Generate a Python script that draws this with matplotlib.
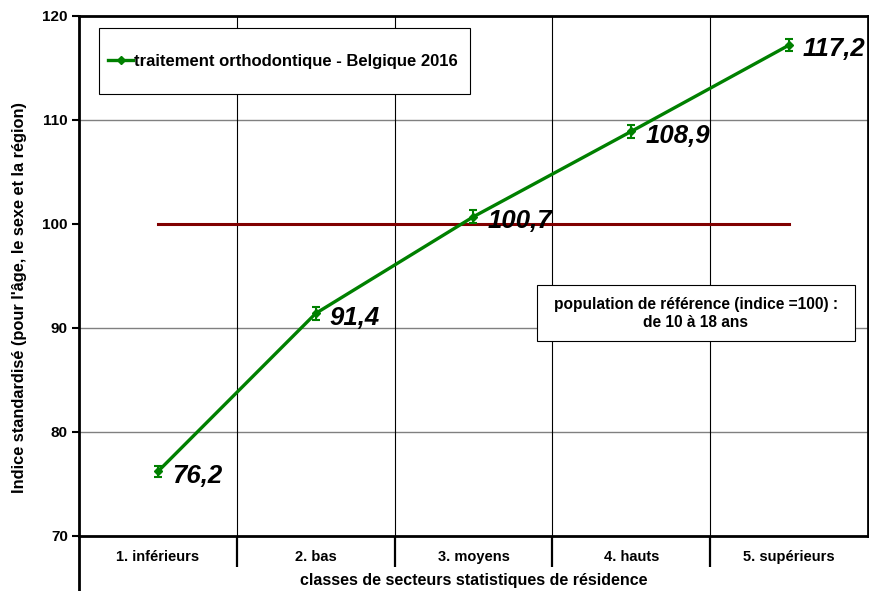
import matplotlib
matplotlib.use('Agg')
import matplotlib.pyplot as plt
from matplotlib.patches import Rectangle
from matplotlib.lines import Line2D

categories = ['1. inférieurs', '2. bas', '3. moyens', '4. hauts', '5. supérieurs']
values = [76.2, 91.4, 100.7, 108.9, 117.2]
err = [0.5, 0.6, 0.6, 0.6, 0.6]
labels = ['76,2', '91,4', '100,7', '108,9', '117,2']
reference = 100
series_name = 'traitement orthodontique - Belgique 2016'
box_text = 'population de référence (indice =100) :\nde 10 à 18 ans'

plt.rcParams['font.family'] = ['Liberation Sans', 'DejaVu Sans']
plt.rcParams['font.weight'] = 'bold'

fig = plt.figure(figsize=(8.7, 5.91), dpi=100)
ax = fig.add_axes([0.0908, 0.0931, 0.9069, 0.8799])

x = list(range(len(categories)))
green = '#008000'

ax.plot([x[0], x[-1]], [reference, reference], color='#800000', lw=2.2, zorder=2)
ax.errorbar(x, values, yerr=err, color=green, lw=2.4, marker='D', ms=4,
            capsize=3, elinewidth=1.5, capthick=1.5, zorder=3)

for xi, v, lab in zip(x, values, labels):
    ax.annotate(lab, (xi, v), xytext=(10, -3), textcoords='offset points',
                ha='left', va='center', fontsize=18.5, fontweight='bold',
                fontstyle='italic', zorder=4)

ax.set_xlim(-0.5, len(categories) - 0.5)
ax.set_ylim(70, 120)
ax.set_yticks(range(70, 121, 10))

# grid
for yv in [80, 90, 110]:
    ax.axhline(yv, color='#808080', lw=1, zorder=1)
for b in [0.5, 1.5, 2.5, 3.5]:
    ax.axvline(b, color='black', lw=0.8, zorder=1)

ax.set_xticks(x)
ax.set_xticklabels(categories, fontsize=10.5, fontweight='bold')
ax.tick_params(axis='x', which='major', length=0, pad=10)
ax.set_xticks([0.5, 1.5, 2.5, 3.5], minor=True)
ax.tick_params(axis='x', which='minor', length=22, width=1.6, color='black', direction='out')
ax.tick_params(axis='y', length=5, width=1.5, labelsize=11, pad=3)
for t in ax.get_yticklabels():
    t.set_fontweight('bold')

for s in ax.spines.values():
    s.set_linewidth(2)

ax.set_ylabel('Indice standardisé (pour l\'âge, le sexe et la région)', fontsize=11.8,
              fontweight='bold')
ax.yaxis.set_label_coords(-0.066, 0.458)
ax.set_xlabel('classes de secteurs statistiques de résidence', fontsize=11.5,
              fontweight='bold')
ax.xaxis.set_label_coords(0.5, -0.071)

# left line extended under the axis
fig.add_artist(Line2D([0.0908, 0.0908], [0, 0.0931], color='black', lw=2))

# legend box
ax.add_patch(Rectangle((0.025, 0.85), 0.471, 0.127, transform=ax.transAxes,
                       facecolor='white', edgecolor='black', lw=0.8, zorder=5))
handle = Line2D([], [], color=green, lw=2.4, marker='D', ms=4)
ax.legend([handle], [series_name], loc='center left', bbox_to_anchor=(0.0368, 0.913),
          frameon=False, handlelength=1.5, handletextpad=0.05, borderpad=0,
          borderaxespad=0, prop={'weight': 'bold', 'size': 12})

# reference population box
ax.add_patch(Rectangle((0.58, 0.375), 0.403, 0.107, transform=ax.transAxes,
                       facecolor='white', edgecolor='black', lw=0.8, zorder=5))
ax.text(0.7815, 0.4285, box_text, transform=ax.transAxes, ha='center', va='center',
        fontsize=11.2, fontweight='bold', zorder=6, linespacing=1.25)

fig.savefig('out.png', dpi=100)
